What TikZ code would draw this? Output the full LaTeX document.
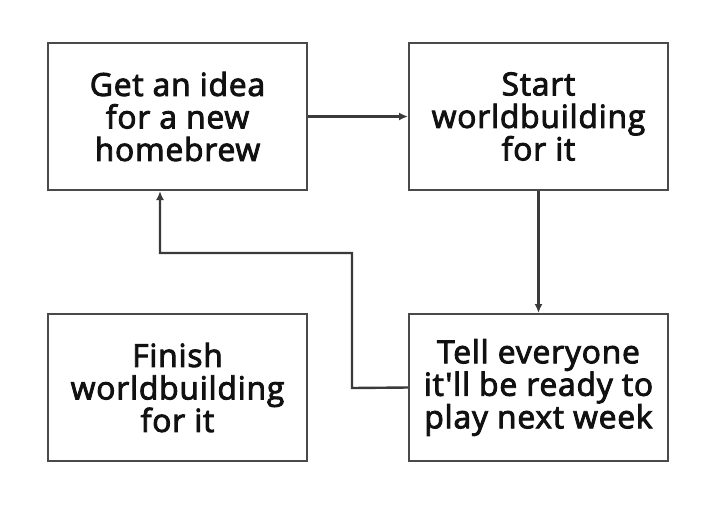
\documentclass[tikz,border=0pt]{standalone}
\usepackage{fontspec}
\setmainfont{Open Sans}
\newfontfamily\boxfont[FakeBold=2.8,LetterSpace=2.5,Ligatures=TeXOff]{Open Sans}
\usetikzlibrary{arrows.meta}
\definecolor{boxc}{HTML}{4A4A4A}
\definecolor{arrc}{HTML}{3A3A3A}
\definecolor{txtc}{HTML}{111111}
\tikzset{
  stepbox/.style={draw=boxc, line width=2pt, minimum width=259pt, minimum height=147pt, inner sep=0pt,
    align=center, text=txtc, font=\boxfont\fontsize{31.8}{32.5}\selectfont},
  conn/.style={draw=arrc, line width=2.4pt, -{Latex[length=9pt,width=8pt]}}
}
\begin{document}
\begin{tikzpicture}[x=1pt,y=-1pt]
\useasboundingbox (0,0) rectangle (720,512);
\fill[white] (0,0) rectangle (720,512);
\node[stepbox] (idea) at (177.5,116.5) {Get an idea\\for a new\\homebrew};
\node[stepbox] (start) at (538.5,116.5) {Start\\worldbuilding\\for it};
\node[stepbox] (finish) at (177.5,387.5) {Finish\\worldbuilding\\for it};
\node[stepbox] (tell) at (538.5,387.5) {Tell everyone\\it'll be ready to\\play next week};
\draw[conn] (idea.east) -- (start.west);
\draw[conn] (start.south) -- (tell.north);
\coordinate (c1) at (352,388);
\coordinate (c2) at (352,253);
\coordinate (c3) at (160,253);
\draw[conn] (tell.west) -- (c1) -- (c2) -- (c3) -- (c3 |- idea.south);
\end{tikzpicture}
\end{document}
